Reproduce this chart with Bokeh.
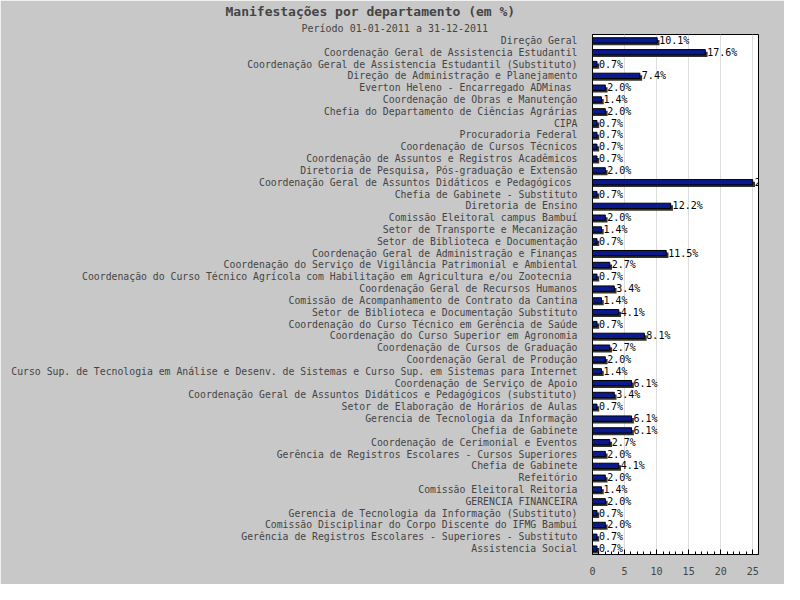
from bokeh.plotting import figure
from bokeh.models import FixedTicker, Range1d, Title
from bokeh.core.properties import value
from bokeh.embed import file_html
from bokeh.resources import INLINE

departamentos = [
    "Direção Geral",
    "Coordenação Geral de Assistencia Estudantil",
    "Coordenação Geral de Assistencia Estudantil (Substituto)",
    "Direção de Administração e Planejamento",
    "Everton Heleno - Encarregado ADMinas ",
    "Coordenação de Obras e Manutenção",
    "Chefia do Departamento de Ciências Agrárias",
    "CIPA",
    "Procuradoria Federal",
    "Coordenação de Cursos Técnicos",
    "Coordenação de Assuntos e Registros Acadêmicos",
    "Diretoria de Pesquisa, Pós-graduação e Extensão",
    "Coordenação Geral de Assuntos Didáticos e Pedagógicos ",
    "Chefia de Gabinete - Substituto",
    "Diretoria de Ensino",
    "Comissão Eleitoral campus Bambuí",
    "Setor de Transporte e Mecanização",
    "Setor de Biblioteca e Documentação",
    "Coordenação Geral de Administração e Finanças",
    "Coordenação do Serviço de Vigilância Patrimonial e Ambiental",
    "Coordenação do Curso Técnico Agrícola com Habilitação em Agricultura e/ou Zootecnia ",
    "Coordenação Geral de Recursos Humanos",
    "Comissão de Acompanhamento de Contrato da Cantina",
    "Setor de Biblioteca e Documentação Substituto",
    "Coordenação do Curso Técnico em Gerência de Saúde",
    "Coordenação do Curso Superior em Agronomia",
    "Coordenação de Cursos de Graduação",
    "Coordenação Geral de Produção",
    "Curso Sup. de Tecnologia em Análise e Desenv. de Sistemas e Curso Sup. em Sistemas para Internet",
    "Coordenação de Serviço de Apoio",
    "Coordenação Geral de Assuntos Didáticos e Pedagógicos (substituto)",
    "Setor de Elaboração de Horários de Aulas",
    "Gerencia de Tecnologia da Informação",
    "Chefia de Gabinete",
    "Coordenação de Cerimonial e Eventos",
    "Gerência de Registros Escolares - Cursos Superiores",
    "Chefia de Gabinete",
    "Refeitório",
    "Comissão Eleitoral Reitoria",
    "GERENCIA FINANCEIRA",
    "Gerencia de Tecnologia da Informação (Substituto)",
    "Comissão Disciplinar do Corpo Discente do IFMG Bambuí",
    "Gerência de Registros Escolares - Superiores - Substituto",
    "Assistencia Social",
]
percentuais = [10.1, 17.6, 0.7, 7.4, 2.0, 1.4, 2.0, 0.7, 0.7, 0.7, 0.7, 2.0, 25.0, 0.7,
               12.2, 2.0, 1.4, 0.7, 11.5, 2.7, 0.7, 3.4, 1.4, 4.1, 0.7, 8.1, 2.7, 2.0,
               1.4, 6.1, 3.4, 0.7, 6.1, 6.1, 2.7, 2.0, 4.1, 2.0, 1.4, 2.0, 0.7, 2.0,
               0.7, 0.7]
x_ticks = [0, 5, 10, 15, 20, 25]

mono = "DejaVu Sans Mono"
n = len(departamentos)
ys = [i + 0.5 for i in range(n)]

p = figure(width=784, height=584, output_backend="svg", toolbar_location=None,
           x_range=Range1d(0, 25.9), y_range=Range1d(n, 0),
           min_border_left=592, min_border_right=26, min_border_top=4, min_border_bottom=30)
p.background_fill_color = "white"
p.border_fill_color = "#c8c8c8"
p.outline_line_color = "black"

p.add_layout(Title(text="Período 01-01-2011 a 31-12-2011", text_font=mono,
                   text_font_size="10px", text_font_style="normal", align="left",
                   offset=-291, standoff=2), "above")
p.add_layout(Title(text="Manifestações por departamento (em %)", text_font=mono,
                   text_font_size="13px", text_font_style="bold", align="left",
                   offset=-367, standoff=2), "above")

# sombra
p.hbar(y=[y + 0.18 for y in ys], left=0, right=[v + 0.35 for v in percentuais],
       height=0.45, fill_color="#33332a", line_color=None)
p.hbar(y=ys, left=0, right=percentuais, height=0.45,
       fill_color="#0a1a8c", line_color="black", line_width=1)
p.text(x=[v + 0.3 for v in percentuais], y=ys, text=[f"{v:.1f}%" for v in percentuais],
       text_font=value(mono), text_font_size="10px", text_baseline="middle",
       text_color="black")

p.xgrid.ticker = FixedTicker(ticks=x_ticks)
p.xgrid.grid_line_color = "#dddddd"
p.ygrid.grid_line_color = None

p.xaxis.ticker = FixedTicker(ticks=x_ticks, minor_ticks=list(range(26)))
p.xaxis.axis_line_color = "black"
p.xaxis.major_tick_in = 5
p.xaxis.major_tick_out = 0
p.xaxis.minor_tick_in = 3
p.xaxis.minor_tick_out = 0
p.xaxis.major_label_standoff = 12
p.xaxis.major_label_text_font = mono
p.xaxis.major_label_text_font_size = "10px"

p.yaxis.ticker = FixedTicker(ticks=ys)
p.yaxis.major_label_overrides = {y: d for y, d in zip(ys, departamentos)}
p.yaxis.major_tick_in = 0
p.yaxis.major_tick_out = 0
p.yaxis.minor_tick_line_color = None
p.yaxis.major_label_standoff = 15
p.yaxis.major_label_text_font = mono
p.yaxis.major_label_text_font_size = "9.8px"
p.yaxis.axis_line_color = "black"

open("out.html", "w").write(file_html(p, INLINE))
